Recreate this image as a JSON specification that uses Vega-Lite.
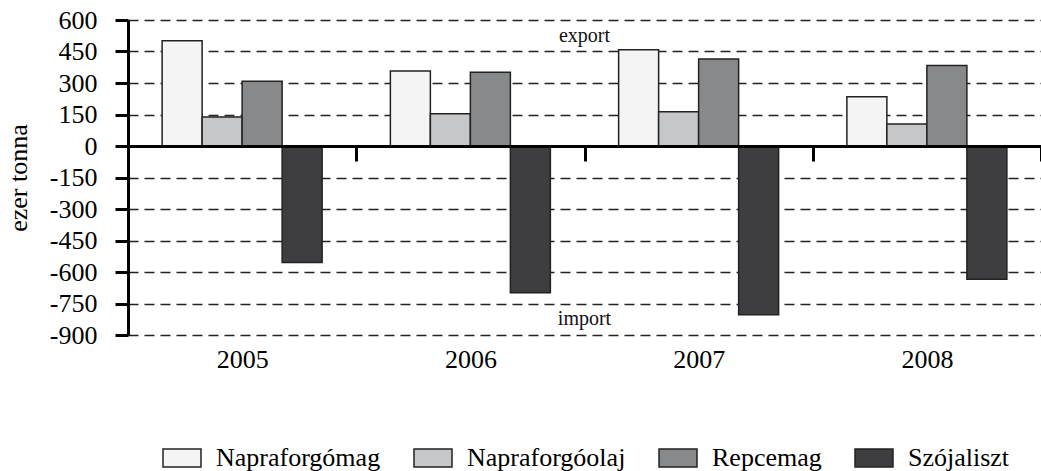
{
  "$schema": "https://vega.github.io/schema/vega-lite/v6.json",
  "width": 913,
  "height": 315,
  "autosize": {"type": "none"},
  "padding": {"left": 128, "top": 20, "right": 0, "bottom": 136},
  "background": "white",
  "config": {"view": {"stroke": null}, "font": "Liberation Serif"},
  "layer": [
    {
      "data": {
        "values": [
          {"year": "2005", "product": "Napraforgómag", "value": 501},
          {"year": "2005", "product": "Napraforgóolaj", "value": 138},
          {"year": "2005", "product": "Repcemag", "value": 308},
          {"year": "2005", "product": "Szójaliszt", "value": -555},
          {"year": "2006", "product": "Napraforgómag", "value": 357},
          {"year": "2006", "product": "Napraforgóolaj", "value": 153},
          {"year": "2006", "product": "Repcemag", "value": 351},
          {"year": "2006", "product": "Szójaliszt", "value": -699},
          {"year": "2007", "product": "Napraforgómag", "value": 458},
          {"year": "2007", "product": "Napraforgóolaj", "value": 163},
          {"year": "2007", "product": "Repcemag", "value": 414},
          {"year": "2007", "product": "Szójaliszt", "value": -804},
          {"year": "2008", "product": "Napraforgómag", "value": 235},
          {"year": "2008", "product": "Napraforgóolaj", "value": 105},
          {"year": "2008", "product": "Repcemag", "value": 383},
          {"year": "2008", "product": "Szójaliszt", "value": -635}
        ]
      },
      "mark": {"type": "bar", "stroke": "#222", "strokeWidth": 1.5},
      "encoding": {
        "x": {
          "field": "year",
          "type": "nominal",
          "scale": {"paddingInner": 0, "paddingOuter": 0},
          "axis": {
            "title": null,
            "orient": "bottom",
            "offset": -189,
            "domainWidth": 3,
            "domainColor": "black",
            "tickBand": "extent",
            "tickSize": 15,
            "tickWidth": 3,
            "tickColor": "black",
            "labelFont": "Liberation Serif",
            "labelFontSize": 26,
            "labelColor": "black",
            "labelPadding": 185,
            "labelAngle": 0,
            "labelOverlap": false,
            "labelBound": false,
            "zindex": 1
          }
        },
        "xOffset": {
          "field": "product",
          "type": "nominal",
          "scale": {
            "domain": ["Napraforgómag", "Napraforgóolaj", "Repcemag", "Szójaliszt"],
            "paddingInner": 0,
            "paddingOuter": 0.853
          }
        },
        "y": {
          "field": "value",
          "type": "quantitative",
          "scale": {"domain": [-900, 600], "nice": false, "zero": false},
          "axis": {
            "values": [-900, -750, -600, -450, -300, -150, 0, 150, 300, 450, 600],
            "labelExpr": "toString(datum.value)",
            "labelOverlap": false,
            "labelBound": false,
            "labelFlush": false,
            "title": "ezer tonna",
            "titleFont": "Liberation Serif",
            "titleFontSize": 26,
            "titleFontWeight": "normal",
            "titleColor": "black",
            "titlePadding": 18,
            "labelFont": "Liberation Serif",
            "labelFontSize": 26,
            "labelColor": "black",
            "labelPadding": 18,
            "tickSize": 13,
            "tickWidth": 3,
            "tickColor": "black",
            "domainWidth": 3,
            "domainColor": "black",
            "grid": true,
            "gridDash": [10, 6],
            "gridColor": "#222",
            "gridWidth": 1.5
          }
        },
        "color": {
          "field": "product",
          "type": "nominal",
          "scale": {
            "domain": ["Napraforgómag", "Napraforgóolaj", "Repcemag", "Szójaliszt"],
            "range": ["#f4f4f4", "#c6c7c9", "#88898b", "#3e3e40"]
          },
          "legend": {
            "orient": "none",
            "legendX": 34,
            "legendY": 418,
            "direction": "horizontal",
            "title": null,
            "symbolType": "M-1,-0.474L1,-0.474L1,0.474L-1,0.474Z",
            "symbolSize": 1444,
            "symbolStrokeColor": "#222",
            "symbolStrokeWidth": 1.5,
            "symbolOpacity": 1,
            "labelFont": "Liberation Serif",
            "labelFontSize": 26,
            "labelColor": "black",
            "labelOffset": 14,
            "columnPadding": 30,
            "padding": 0,
            "labelLimit": 300
          }
        }
      }
    },
    {
      "data": {
        "values": [
          {"year": "2007", "value": 522, "label": "export"},
          {"year": "2007", "value": -823, "label": "import"}
        ]
      },
      "mark": {"type": "text", "fontSize": 20, "font": "Liberation Serif", "color": "#111"},
      "encoding": {
        "x": {
          "field": "year",
          "type": "nominal",
          "bandPosition": 0,
          "axis": {
            "title": null,
            "orient": "bottom",
            "offset": -189,
            "domainWidth": 3,
            "domainColor": "black",
            "tickBand": "extent",
            "tickSize": 15,
            "tickWidth": 3,
            "tickColor": "black",
            "labelFont": "Liberation Serif",
            "labelFontSize": 26,
            "labelColor": "black",
            "labelPadding": 185,
            "labelAngle": 0,
            "labelOverlap": false,
            "labelBound": false,
            "zindex": 1
          }
        },
        "y": {
          "field": "value",
          "type": "quantitative",
          "axis": {
            "values": [-900, -750, -600, -450, -300, -150, 0, 150, 300, 450, 600],
            "labelExpr": "toString(datum.value)",
            "labelOverlap": false,
            "labelBound": false,
            "labelFlush": false,
            "title": "ezer tonna",
            "titleFont": "Liberation Serif",
            "titleFontSize": 26,
            "titleFontWeight": "normal",
            "titleColor": "black",
            "titlePadding": 18,
            "labelFont": "Liberation Serif",
            "labelFontSize": 26,
            "labelColor": "black",
            "labelPadding": 18,
            "tickSize": 13,
            "tickWidth": 3,
            "tickColor": "black",
            "domainWidth": 3,
            "domainColor": "black",
            "grid": true,
            "gridDash": [10, 6],
            "gridColor": "#222",
            "gridWidth": 1.5
          }
        },
        "text": {"field": "label"}
      }
    }
  ]
}
